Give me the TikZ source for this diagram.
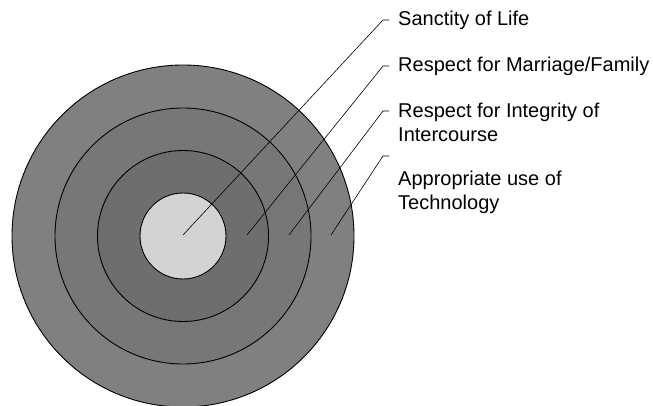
\documentclass[tikz,border=0pt]{standalone}
\usepackage{fontspec}
\setmainfont{Liberation Sans}
\definecolor{ringA}{HTML}{808080}
\definecolor{ringB}{HTML}{777777}
\definecolor{ringC}{HTML}{6E6E6E}
\definecolor{core}{HTML}{D3D3D3}
\begin{document}
\begin{tikzpicture}[x=1pt,y=-1pt,
  ring/.style={circle,draw=black,line width=0.9pt,inner sep=0pt},
  leader/.style={draw=black,line width=0.6pt},
  lbl/.style={anchor=base west,inner sep=0pt,align=left,font=\fontsize{20}{24.5}\selectfont}]
\useasboundingbox (0,0) rectangle (653,406);
\node[ring,fill=ringA,minimum size=342pt] (r4) at (183,236) {};
\node[ring,fill=ringB,minimum size=256pt] (r3) at (183,236) {};
\node[ring,fill=ringC,minimum size=171pt] (r2) at (183,236) {};
\node[ring,fill=core,minimum size=86pt] (r1) at (183,236) {};
\coordinate (s1) at (183,235);
\coordinate (s2) at (247,235);
\coordinate (s3) at (289,235);
\coordinate (s4) at (331,235);
\coordinate (k1) at (383,20);
\coordinate (k2) at (383,66);
\coordinate (k3) at (383,111);
\coordinate (k4) at (383,156);
\coordinate (e1) at (389,20);
\coordinate (e2) at (389,66);
\coordinate (e3) at (389,111);
\coordinate (e4) at (389,156);
\draw[leader] (s1) -- (k1) -- (e1);
\draw[leader] (s2) -- (k2) -- (e2);
\draw[leader] (s3) -- (k3) -- (e3);
\draw[leader] (s4) -- (k4) -- (e4);
\node[lbl] (t1) at (398,25.7) {Sanctity of Life};
\node[lbl] (t2) at (398,72) {Respect for Marriage/Family};
\node[lbl] (t3) at (398,142) {Respect for Integrity of\\Intercourse};
\node[lbl] (t4) at (398,210) {Appropriate use of\\Technology};
\end{tikzpicture}
\end{document}
